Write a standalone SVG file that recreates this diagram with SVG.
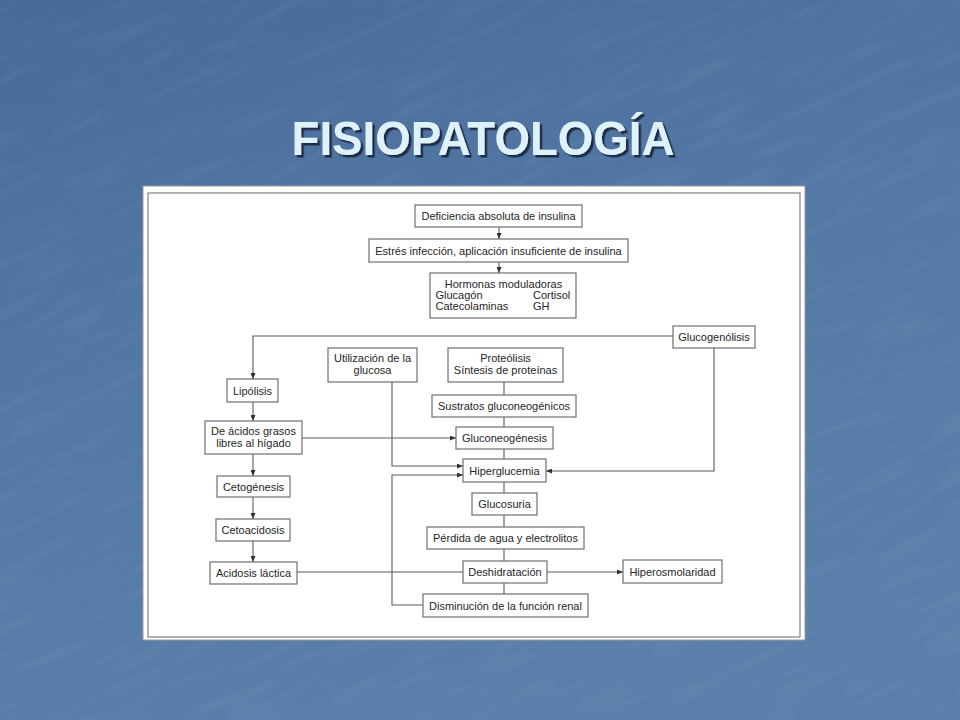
<svg xmlns="http://www.w3.org/2000/svg" width="960" height="720" viewBox="0 0 960 720">
  <defs>
    <linearGradient id="bg" x1="0" y1="0" x2="0.35" y2="1">
      <stop offset="0" stop-color="#476a97"/>
      <stop offset="0.45" stop-color="#5377a4"/>
      <stop offset="1" stop-color="#5b7fab"/>
    </linearGradient>
    <filter id="tex" x="0" y="0" width="1" height="1">
      <feTurbulence type="fractalNoise" baseFrequency="0.012 0.09" numOctaves="3" seed="7" result="n"/>
      <feColorMatrix in="n" type="matrix" values="0 0 0 0 1  0 0 0 0 1  0 0 0 0 1  0 0 0 0.9 -0.45"/>
    </filter>
    <filter id="shadow" x="-5%" y="-20%" width="110%" height="140%">
      <feDropShadow dx="2.5" dy="2.5" stdDeviation="0.6" flood-color="#14213a" flood-opacity="0.9"/>
    </filter>
    <marker id="arr" markerWidth="6" markerHeight="5" refX="6" refY="2.5" orient="auto" markerUnits="userSpaceOnUse">
      <path d="M0,0 L6,2.5 L0,5 z" fill="#333"/>
    </marker>
    <style>
      .box { fill: #ffffff; stroke: #6e6e6e; stroke-width: 1.2; }
      .lbl { font-family: "Liberation Sans", Arial, sans-serif; font-size: 11px; fill: #262626; text-anchor: middle; }
      .lft { text-anchor: start; }
      .con { fill: none; stroke: #5a5a5a; stroke-width: 1.1; }
      .arrow { marker-end: url(#arr); }
      .title { font-family: "Liberation Sans", Arial, sans-serif; font-weight: bold; font-size: 48px; fill: #def2fb; text-anchor: middle; }
    </style>
  </defs>

  <!-- background -->
  <rect x="0" y="0" width="960" height="720" fill="url(#bg)"/>
  <g opacity="0.13" transform="rotate(-25 480 360)">
    <rect x="-300" y="-300" width="1560" height="1320" filter="url(#tex)"/>
  </g>

  <!-- title -->
  <text class="title" x="483" y="155" textLength="383" lengthAdjust="spacingAndGlyphs" filter="url(#shadow)">FISIOPATOLOGÍA</text>

  <!-- diagram panel -->
  <rect x="143" y="186" width="662" height="454" fill="#ffffff" stroke="#9a9a9a" stroke-width="1"/>
  <rect x="148" y="193" width="652" height="444" fill="none" stroke="#808080" stroke-width="1.2"/>

  <!-- connectors -->
  <g id="connectors">
    <path class="con arrow" d="M499,227 V239"/>
    <path class="con arrow" d="M499,262 V273"/>
    <path class="con arrow" d="M673,336 H253 V379"/>
    <path class="con arrow" d="M714,348 V471 H546"/>
    <path class="con arrow" d="M253,402 V421"/>
    <path class="con arrow" d="M302,438 H456"/>
    <path class="con arrow" d="M253,454 V476"/>
    <path class="con arrow" d="M392,382 V466 H463"/>
    <path class="con arrow" d="M423,605 H392 V475 H463"/>
    <path class="con" d="M504,382 V395"/>
    <path class="con" d="M504,417 V427"/>
    <path class="con" d="M504,449 V459"/>
    <path class="con" d="M504,482 V493"/>
    <path class="con" d="M504,515 V527"/>
    <path class="con" d="M504,549 V561"/>
    <path class="con arrow" d="M547,572 H623"/>
    <path class="con" d="M504,583 V594"/>
    <path class="con arrow" d="M253,497 V519"/>
    <path class="con arrow" d="M253,541 V562"/>
    <path class="con" d="M297,572 H463"/>
  </g>

  <!-- nodes -->
  <g id="n-deficiencia">
    <rect class="box" x="415" y="205" width="167" height="22"/>
    <text class="lbl" x="498.5" y="220">Deficiencia absoluta de insulina</text>
  </g>
  <g id="n-estres">
    <rect class="box" x="369" y="239" width="259" height="23"/>
    <text class="lbl" x="498.5" y="254.5">Estrés infección, aplicación insuficiente de insulina</text>
  </g>
  <g id="n-hormonas">
    <rect class="box" x="430" y="273" width="146" height="45"/>
    <text class="lbl" x="503.5" y="287.5">Hormonas moduladoras</text>
    <text class="lbl lft" x="435.5" y="298.5">Glucagón</text>
    <text class="lbl lft" x="533" y="298.5">Cortisol</text>
    <text class="lbl lft" x="435.5" y="309.5">Catecolaminas</text>
    <text class="lbl lft" x="533" y="309.5">GH</text>
  </g>
  <g id="n-glucogenolisis">
    <rect class="box" x="673" y="326" width="82" height="22"/>
    <text class="lbl" x="714" y="341">Glucogenólisis</text>
  </g>
  <g id="n-lipolisis">
    <rect class="box" x="227" y="379" width="51" height="23"/>
    <text class="lbl" x="252.5" y="394.5">Lipólisis</text>
  </g>
  <g id="n-utilizacion">
    <rect class="box" x="328" y="348" width="89" height="34"/>
    <text class="lbl" x="372.5" y="362">Utilización de la</text>
    <text class="lbl" x="372.5" y="374">glucosa</text>
  </g>
  <g id="n-proteolisis">
    <rect class="box" x="448" y="348" width="115" height="34"/>
    <text class="lbl" x="505.5" y="362">Proteólisis</text>
    <text class="lbl" x="505.5" y="374">Síntesis de proteínas</text>
  </g>
  <g id="n-sustratos">
    <rect class="box" x="432" y="395" width="144" height="22"/>
    <text class="lbl" x="504" y="410">Sustratos gluconeogénicos</text>
  </g>
  <g id="n-acidos">
    <rect class="box" x="205" y="421" width="97" height="33"/>
    <text class="lbl" x="253.5" y="435">De ácidos grasos</text>
    <text class="lbl" x="253.5" y="447">libres al hígado</text>
  </g>
  <g id="n-gluconeogenesis">
    <rect class="box" x="456" y="427" width="97" height="22"/>
    <text class="lbl" x="504.5" y="442">Gluconeogénesis</text>
  </g>
  <g id="n-hiperglucemia">
    <rect class="box" x="463" y="459" width="83" height="23"/>
    <text class="lbl" x="504.5" y="474.5">Hiperglucemia</text>
  </g>
  <g id="n-cetogenesis">
    <rect class="box" x="217" y="476" width="73" height="21"/>
    <text class="lbl" x="253.5" y="490.5">Cetogénesis</text>
  </g>
  <g id="n-glucosuria">
    <rect class="box" x="472" y="493" width="65" height="22"/>
    <text class="lbl" x="504.5" y="508">Glucosuria</text>
  </g>
  <g id="n-cetoacidosis">
    <rect class="box" x="216" y="519" width="74" height="22"/>
    <text class="lbl" x="253" y="534">Cetoacidosis</text>
  </g>
  <g id="n-perdida">
    <rect class="box" x="427" y="527" width="157" height="22"/>
    <text class="lbl" x="505.5" y="542">Pérdida de agua y electrolitos</text>
  </g>
  <g id="n-acidosis">
    <rect class="box" x="210" y="562" width="87" height="22"/>
    <text class="lbl" x="253.5" y="577">Acidosis láctica</text>
  </g>
  <g id="n-deshidratacion">
    <rect class="box" x="463" y="561" width="84" height="22"/>
    <text class="lbl" x="505" y="576">Deshidratación</text>
  </g>
  <g id="n-hiperosmolaridad">
    <rect class="box" x="623" y="560" width="99" height="23"/>
    <text class="lbl" x="672.5" y="575.5">Hiperosmolaridad</text>
  </g>
  <g id="n-disminucion">
    <rect class="box" x="423" y="594" width="165" height="23"/>
    <text class="lbl" x="505.5" y="609.5">Disminución de la función renal</text>
  </g>
</svg>
